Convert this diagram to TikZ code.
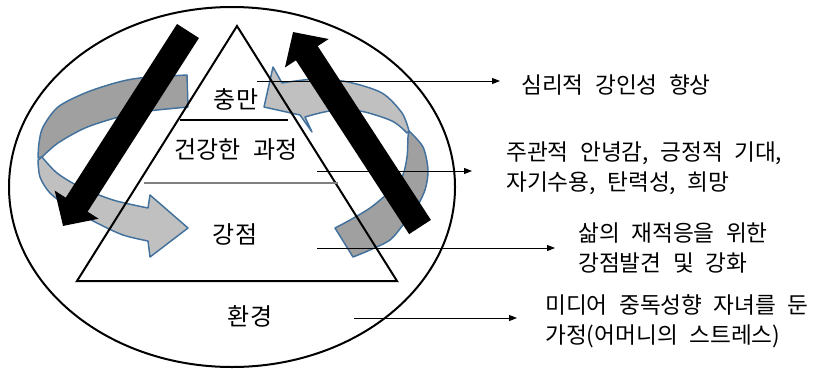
\documentclass[tikz,border=0pt]{standalone}
\usepackage{fontspec}
\newfontfamily\kr{Noto Sans CJK KR}
\newcommand\krwide{\spaceskip=0.5em\relax}
\usetikzlibrary{arrows.meta}
\definecolor{ribbondk}{RGB}{160,160,160}
\definecolor{ribbonlt}{RGB}{192,192,192}
\definecolor{ribbonedge}{RGB}{65,113,156}

\begin{document}
\begin{tikzpicture}[
  x=0.75pt,y=-0.75pt,
  >={Triangle[length=6pt,width=4.5pt]},
  level/.style={font=\kr\fontsize{18}{22}\selectfont\krwide,inner sep=0pt},
  outcome/.style={font=\kr\fontsize{17}{22.5}\selectfont\krwide,
    align=left,anchor=west,inner sep=0pt},
  pointer/.style={->,line width=0.75pt},
  frame/.style={line width=1.5pt},
  flow/.style={line width=19.5pt,-{Triangle[length=19pt,width=38pt]}},
  fold/.style={draw=ribbonedge,line width=1.1pt,line join=round,fill=ribbondk},
  band/.style={draw=ribbonedge,line width=1.1pt,line join=round,fill=ribbonlt}
]
\useasboundingbox (0,0) rectangle (816,368);
\draw[frame] (232,187) ellipse [x radius=167.25pt,y radius=135pt];
\draw[fold] plot[smooth] coordinates {(187,75) (140,78) (115,83) (85,93) (58,107)
  (43,127) (39,143) (38,158)}
  -- plot[smooth] coordinates {(42,157) (58,143) (85,128) (115,118) (140,112) (188,107)}
  -- cycle;
\draw[band] plot[smooth] coordinates {(42,157) (57,173) (80,187) (113,200) (148,208)}
  -- (150,195) -- (188,228) -- (150,257)
  -- plot[smooth] coordinates {(148,241) (123,235) (97,223) (70,208) (50,193)
  (40,177) (38,160)} -- cycle;
\draw[fold] plot[smooth] coordinates {(409,131) (423,147) (428,170) (425,190) (415,210)
  (403,225) (390,240) (370,250) (353,257)}
  -- plot[smooth] coordinates {(335,228) (350,220) (370,208) (388,193) (402,177)
  (407,157) (408,137) (409,131)} -- cycle;
\draw[band] (264,107) -- (273,67)
  -- plot[smooth] coordinates {(282,83) (315,79) (348,82) (382,93) (402,113) (409,131)}
  -- plot[smooth] coordinates {(407,133) (392,121) (360,111) (330,111) (305,117)}
  -- (312,132) -- (300,115) -- cycle;
\coordinate (apex) at (237,26);
\coordinate (baseL) at (77,281);
\coordinate (baseR) at (397,281);
\draw[frame,line join=miter] (apex) -- (baseR) -- (baseL) -- cycle;
\draw[line width=1pt] (180,120) -- (288,120);
\draw[line width=1pt,black!50] (144,183) -- (338,183);
\node[level] (fulfil) at (236,99) {충만};
\node[level] (process) at (236,150) {건강한 과정};
\node[level] (strength) at (235,234) {강점};
\node[level] (environ) at (250,316) {환경};
\node[outcome] (resil) at (521,85) {심리적 강인성 향상};
\node[outcome] (wellbeing) at (506,168) {주관적 안녕감, 긍정적 기대,\\자기수용, 탄력성, 희망};
\node[outcome] (discover) at (578,248) {삶의 재적응을 위한\\강점발견 및 강화};
\node[outcome] (family) at (545,321) {미디어 중독성향 자녀를 둔\\가정(어머니의 스트레스)};
\coordinate (p1) at (257,81);
\coordinate (p2) at (317,171);
\coordinate (p3) at (317,248);
\coordinate (p4) at (354,318);
\draw[pointer,shorten >=15.75pt] (p1) -- (p1 -| resil.west);
\draw[pointer,shorten >=25.5pt] (p2) -- (p2 -| wellbeing.west);
\draw[pointer,shorten >=17.25pt] (p3) -- (p3 -| discover.west);
\draw[pointer,shorten >=21pt] (p4) -- (p4 -| family.west);
\coordinate (downTail) at (188,31);
\coordinate (downTip) at (63,226);
\coordinate (upTail) at (420,227);
\coordinate (upTip) at (293,32);
\draw[flow] (downTail) -- (downTip);
\draw[flow] (upTail) -- (upTip);
\end{tikzpicture}
\end{document}
